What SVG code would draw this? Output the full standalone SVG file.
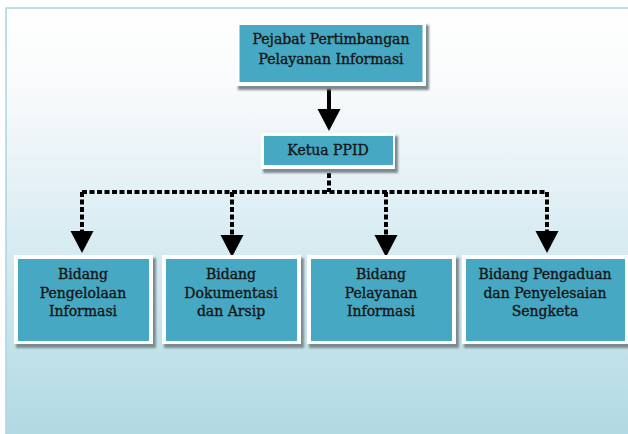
<svg xmlns="http://www.w3.org/2000/svg" width="628" height="434" viewBox="0 0 628 434">
<defs>
<linearGradient id="bg" x1="0" y1="0" x2="0" y2="1">
<stop offset="0" stop-color="#ffffff"/>
<stop offset="0.2" stop-color="#f7fafb"/>
<stop offset="0.5" stop-color="#dcedf3"/>
<stop offset="1" stop-color="#b0d9e3"/>
</linearGradient>
<filter id="sh" x="-10%" y="-10%" width="120%" height="130%">
<feGaussianBlur stdDeviation="0.8"/>
</filter>
<marker id="ah" markerUnits="userSpaceOnUse" markerWidth="22" markerHeight="24" refX="0" refY="11.5" orient="auto" viewBox="0 0 22 24">
<path d="M0,0 L22,11.5 L0,23 z" fill="#000"/>
</marker>
</defs>
<style>
.frame{fill:#ffffff}
.shadow{fill:#7c8a90;filter:url(#sh)}
.box{fill:#46a8c2}
.t{font-family:"DejaVu Serif","Liberation Serif",serif;font-size:14px;fill:#151515;stroke:#151515;stroke-width:0.35;text-anchor:middle}
.solid{stroke:#000;stroke-width:4;fill:none}
.dash{stroke:#000;stroke-width:4;fill:none;stroke-dasharray:5 2.5}
</style>
<rect x="0" y="0" width="628" height="434" fill="#ffffff"/>
<rect x="6" y="8" width="630" height="430" fill="url(#bg)" stroke="#a9d5e1" stroke-width="1.5"/>

<g id="connectors">
<line class="solid" x1="329" y1="88" x2="329" y2="109" marker-end="url(#ah)"/>
<line class="dash" x1="329" y1="173" x2="329" y2="192"/>
<line class="dash" x1="82" y1="192" x2="547" y2="192"/>
<line class="dash" x1="82" y1="192" x2="82" y2="231" marker-end="url(#ah)"/>
<line class="dash" x1="232" y1="192" x2="232" y2="235" marker-end="url(#ah)"/>
<line class="dash" x1="386" y1="192" x2="386" y2="235" marker-end="url(#ah)"/>
<line class="dash" x1="547" y1="192" x2="547" y2="231" marker-end="url(#ah)"/>
</g>

<g id="node-pejabat">
<rect class="shadow" x="238" y="25" width="191" height="65"/>
<rect class="frame" x="236" y="22" width="190" height="64"/>
<rect class="box" x="239.5" y="25" width="183" height="57"/>
<text class="t" x="331" y="43.5">Pejabat Pertimbangan</text>
<text class="t" x="331" y="63.5">Pelayanan Informasi</text>
</g>

<g id="node-ketua">
<rect class="shadow" x="263" y="136" width="135" height="37"/>
<rect class="frame" x="261" y="133" width="134" height="36"/>
<rect class="box" x="264" y="136" width="129" height="29"/>
<text class="t" x="328" y="155">Ketua PPID</text>
</g>

<g id="node-pengelolaan">
<rect class="shadow" x="16" y="258" width="140" height="90"/>
<rect class="frame" x="14" y="255" width="139" height="89"/>
<rect class="box" x="18" y="259" width="131" height="82"/>
<text class="t" x="83" y="279">Bidang</text>
<text class="t" x="83" y="297.5">Pengelolaan</text>
<text class="t" x="83" y="316">Informasi</text>
</g>

<g id="node-dokumentasi">
<rect class="shadow" x="164" y="258" width="140" height="90"/>
<rect class="frame" x="162" y="255" width="139" height="89"/>
<rect class="box" x="166" y="259" width="131" height="82"/>
<text class="t" x="231" y="279">Bidang</text>
<text class="t" x="231" y="297.5">Dokumentasi</text>
<text class="t" x="231" y="316">dan Arsip</text>
</g>

<g id="node-pelayanan">
<rect class="shadow" x="309" y="258" width="150" height="90"/>
<rect class="frame" x="307" y="255" width="149" height="89"/>
<rect class="box" x="311" y="259" width="141" height="82"/>
<text class="t" x="381" y="279">Bidang</text>
<text class="t" x="381" y="297.5">Pelayanan</text>
<text class="t" x="381" y="316">Informasi</text>
</g>

<g id="node-pengaduan">
<rect class="shadow" x="464" y="258" width="170" height="90"/>
<rect class="frame" x="462" y="255" width="170" height="89"/>
<rect class="box" x="466" y="259" width="159" height="82"/>
<text class="t" x="545" y="279">Bidang Pengaduan</text>
<text class="t" x="545" y="297.5">dan Penyelesaian</text>
<text class="t" x="545" y="316">Sengketa</text>
</g>
</svg>
